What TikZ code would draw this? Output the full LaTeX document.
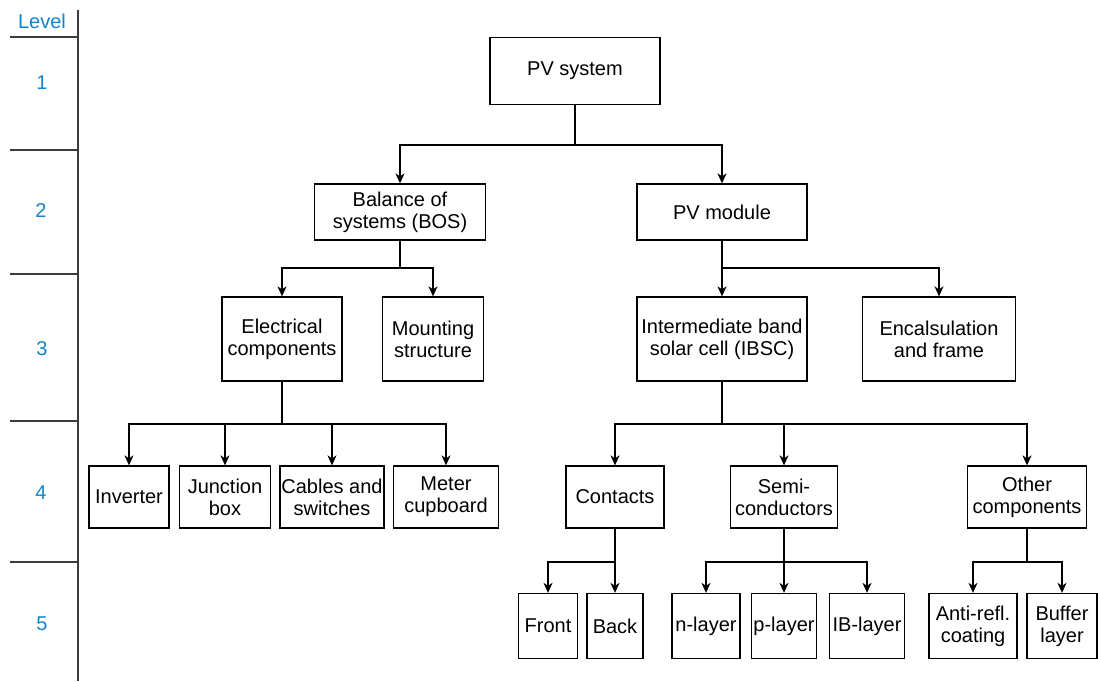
\documentclass[tikz,border=0pt]{standalone}
\usepackage{fontspec}
\setmainfont{Liberation Sans}
\usepackage{tikz}
\usetikzlibrary{calc}
\usetikzlibrary{arrows.meta,positioning}
\definecolor{levelblue}{RGB}{18,132,204}
\definecolor{rulegray}{RGB}{60,60,60}
\newcommand{\bfs}{\fontsize{20}{22}\selectfont}

\begin{document}
\begin{tikzpicture}[x=1pt,y=-1pt,
    box/.style={draw,line width=1.3pt,align=center,inner sep=0pt,font=\bfs},
    arr/.style={line width=1.3pt,-{Stealth[length=10pt,width=9pt,inset=3pt]}},
    lvl/.style={text=levelblue,font=\bfs}]
    \useasboundingbox (0,0) rectangle (1098,681);

    % level column
    \draw[rulegray,line width=1.5pt] (78,10) -- (78,681);
    \foreach \yy in {37,150,274,421,562}
      \draw[rulegray,line width=1.5pt] (10,\yy) -- (78,\yy);
    \node[lvl] (lv)  at (42,21)  {Level};
    \node[lvl] (lv1) at (42,83)  {1};
    \node[lvl] (lv2) at (41,211) {2};
    \node[lvl] (lv3) at (42,349) {3};
    \node[lvl] (lv4) at (41,493) {4};
    \node[lvl] (lv5) at (42,624) {5};

    % level 1 and 2
    \node[box,minimum width=170pt,minimum height=67pt] (pv) at (575,71) {PV system};
    \node[box,minimum width=171pt,minimum height=56pt] (bos) at (400,212) {Balance of\\systems (BOS)};
    \node[box,minimum width=170pt,minimum height=56pt] (mod) at (722,212) {PV module};

    % level 3
    \node[box,minimum width=120pt,minimum height=84pt] (elec) at (282,339) {Electrical\\components};
    \node[box,minimum width=101pt,minimum height=84pt] (mount) at (433,339) {Mounting\\structure};
    \node[box,minimum width=170pt,minimum height=84pt] (ibsc) at (722,339) {Intermediate band\\solar cell (IBSC)};
    \node[box,minimum width=153pt,minimum height=84pt] (encap) at (939,339) {Encalsulation\\and frame};

    % level 4
    \node[box,minimum width=80pt,minimum height=62pt] (inv) at (129,497) {Inverter};
    \node[box,minimum width=91pt,minimum height=62pt] (jbox) at (225,497) {Junction\\box};
    \node[box,minimum width=104pt,minimum height=62pt] (cable) at (332,497) {Cables and\\switches};
    \node[box,minimum width=105pt,minimum height=62pt] (meter) at (446,497) {Meter\\cupboard};
    \node[box,minimum width=98pt,minimum height=62pt] (cont) at (615,497) {Contacts};
    \node[box,minimum width=107pt,minimum height=62pt] (semi) at (784,497) {Semi-\\conductors};
    \node[box,minimum width=119pt,minimum height=62pt] (other) at (1027,497) {Other\\components};

    % level 5
    \node[box,minimum width=59pt,minimum height=65pt] (front) at (548,626) {Front};
    \node[box,minimum width=56pt,minimum height=65pt] (back) at (615,626) {Back};
    \node[box,minimum width=68pt,minimum height=65pt] (nlay) at (706,626) {n-layer};
    \node[box,minimum width=65pt,minimum height=65pt] (play) at (784,626) {p-layer};
    \node[box,minimum width=75pt,minimum height=65pt] (iblay) at (867,626) {IB-layer};
    \node[box,minimum width=88pt,minimum height=65pt] (arc) at (973,626) {Anti-refl.\\coating};
    \node[box,minimum width=70pt,minimum height=65pt] (buf) at (1062,626) {Buffer\\layer};

    % connectors
    \coordinate (j1) at (575,145);
    \draw[arr] (pv.south) -- (j1) -| (bos.north);
    \draw[arr] (j1) -| (mod.north);

    \coordinate (j2) at (400,268);
    \draw[arr] (bos.south) -- (j2) -| (elec.north);
    \draw[arr] (j2) -| (mount.north);

    \coordinate (j3) at (722,268);
    \draw[arr] (mod.south) -- (ibsc.north);
    \draw[arr] (j3) -| (encap.north);

    \coordinate (j4) at (282,424);
    \draw[arr] (elec.south) -- (j4) -| (inv.north);
    \draw[arr] (j4) -| (meter.north);
    \draw[arr] (jbox.north |- j4) -- (jbox.north);
    \draw[arr] (cable.north |- j4) -- (cable.north);

    \coordinate (j5) at (722,424);
    \draw[arr] (ibsc.south) -- (j5) -| (cont.north);
    \draw[arr] (j5) -| (other.north);
    \draw[arr] (semi.north |- j5) -- (semi.north);

    \coordinate (j6) at (615,562);
    \draw[arr] (cont.south) -- (back.north);
    \draw[arr] (j6) -| (front.north);

    \coordinate (j7) at (784,562);
    \draw[arr] (semi.south) -- (j7) -| (nlay.north);
    \draw[arr] (j7) -| (iblay.north);
    \draw[arr] (play.north |- j7) -- (play.north);

    \coordinate (j8) at (1027,562);
    \draw[arr] (other.south) -- (j8) -| (arc.north);
    \draw[arr] (j8) -| (buf.north);
\end{tikzpicture}
\end{document}
